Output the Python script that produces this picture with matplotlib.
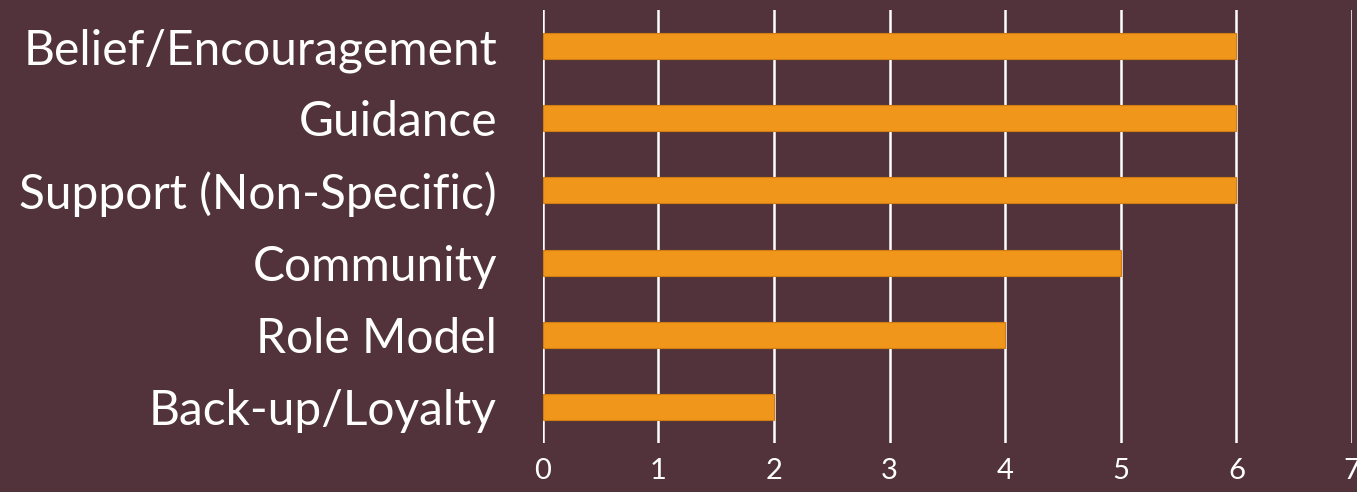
import matplotlib
matplotlib.use('Agg')
import matplotlib.pyplot as plt
import numpy as np

# Data
categories = ['Belief/Encouragement', 'Guidance', 'Support (Non-Specific)',
              'Community', 'Role Model', 'Back-up/Loyalty']
counts = [6, 6, 6, 5, 4, 2]
x_ticks = [0, 1, 2, 3, 4, 5, 6, 7]

bg = '#52333b'
bar_color = '#f0961a'

plt.rcParams['font.family'] = ['Lato', 'DejaVu Sans']

fig = plt.figure(figsize=(13.57, 4.92), dpi=100, facecolor=bg)
ax = fig.add_axes([0.400, 0.0996, 0.5963, 0.8801])
ax.set_facecolor(bg)

y_pos = np.arange(len(categories))
ax.barh(y_pos, counts, height=0.36, color=bar_color, edgecolor='#d07d14',
        linewidth=0.8, zorder=3)

ax.set_xlim(0, 7)
ax.set_ylim(len(categories) - 0.5, -0.5)
ax.set_xticks(x_ticks)
ax.set_yticks(y_pos)
ax.set_yticklabels(categories, fontsize=34.5, color='white')
ax.tick_params(axis='y', length=0, pad=33)
ax.tick_params(axis='x', length=0, pad=11, labelsize=21, labelcolor='white')

ax.grid(axis='x', color='white', linewidth=1.8, zorder=1)
for spine in ax.spines.values():
    spine.set_visible(False)

plt.savefig('out.png', dpi=100, facecolor=bg)
